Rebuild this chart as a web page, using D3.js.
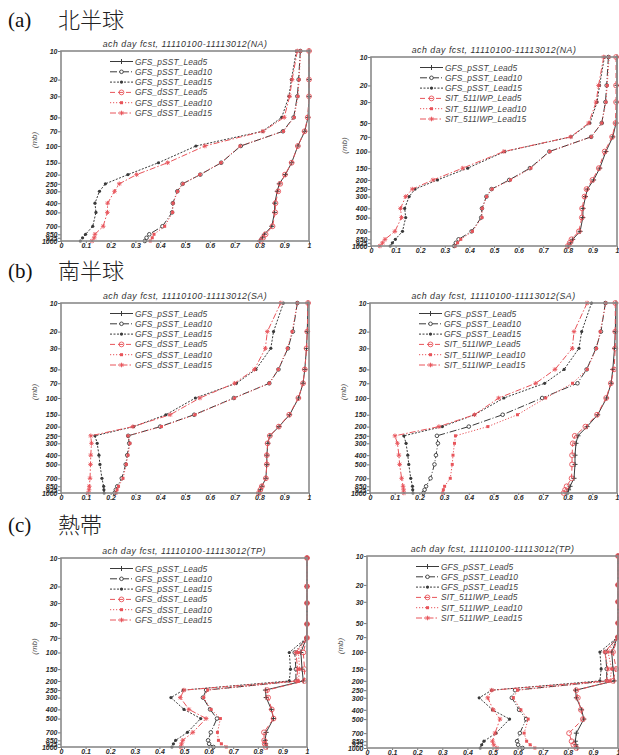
<!DOCTYPE html>
<html>
<head>
<meta charset="utf-8">
<script src="https://d3js.org/d3.v7.min.js"></script>
<style>
body { margin:0; background:#fff; }
svg { display:block; }
</style>
</head>
<body>
<svg id="drawing_region"></svg>
<script>
// pressure levels (mb)
const levels = [10, 20, 30, 50, 70, 100, 150, 200, 250, 300, 400, 500, 700, 850, 925, 1000];
const xticks = [0, 0.1, 0.2, 0.3, 0.4, 0.5, 0.6, 0.7, 0.8, 0.9, 1];

// NA
const NA_pSST_Lead5  = [1.0, 1.0, 1.0, 0.996, 0.983, 0.955, 0.930, 0.905, 0.880, 0.872, 0.862, 0.861, 0.850, 0.820, 0.812, 0.801];
const NA_pSST_Lead10 = [0.965, 0.958, 0.953, 0.938, 0.895, 0.725, 0.646, 0.562, 0.490, 0.469, 0.451, 0.448, 0.409, 0.356, 0.345, 0.338];
const NA_pSST_Lead15 = [0.949, 0.929, 0.919, 0.890, 0.813, 0.544, 0.393, 0.270, 0.179, 0.155, 0.137, 0.141, 0.128, 0.099, 0.087, 0.078];
const NA_dSST_Lead5  = [1.0, 1.0, 1.0, 0.995, 0.982, 0.955, 0.930, 0.903, 0.884, 0.876, 0.865, 0.864, 0.853, 0.825, 0.815, 0.806];
const NA_dSST_Lead10 = [0.966, 0.960, 0.955, 0.940, 0.897, 0.722, 0.645, 0.560, 0.492, 0.470, 0.452, 0.450, 0.418, 0.375, 0.368, 0.360];
const NA_dSST_Lead15 = [0.953, 0.932, 0.922, 0.900, 0.815, 0.580, 0.430, 0.305, 0.235, 0.216, 0.188, 0.187, 0.170, 0.137, 0.134, 0.125];
const NA_SIT_Lead5   = [0.996, 0.996, 0.996, 0.994, 0.980, 0.950, 0.926, 0.900, 0.876, 0.868, 0.858, 0.857, 0.845, 0.815, 0.808, 0.800];
const NA_SIT_Lead10  = [0.968, 0.960, 0.955, 0.938, 0.895, 0.727, 0.650, 0.567, 0.492, 0.470, 0.452, 0.451, 0.412, 0.365, 0.352, 0.343];
const NA_SIT_Lead15  = [0.946, 0.925, 0.915, 0.885, 0.812, 0.540, 0.373, 0.252, 0.168, 0.141, 0.120, 0.124, 0.097, 0.057, 0.047, 0.036];

// SA
const SA_pSST_Lead5  = [0.996, 0.993, 0.990, 0.983, 0.976, 0.958, 0.922, 0.879, 0.842, 0.834, 0.830, 0.830, 0.826, 0.810, 0.804, 0.797];
const SA_pSST_Lead10 = [0.953, 0.935, 0.915, 0.877, 0.840, 0.697, 0.537, 0.400, 0.271, 0.275, 0.267, 0.261, 0.245, 0.227, 0.221, 0.216];
const SA_pSST_Lead15 = [0.897, 0.857, 0.846, 0.786, 0.707, 0.542, 0.423, 0.293, 0.137, 0.146, 0.153, 0.157, 0.165, 0.172, 0.173, 0.174];
const SA_dSST_Lead5  = [0.996, 0.993, 0.990, 0.983, 0.976, 0.957, 0.920, 0.878, 0.842, 0.833, 0.830, 0.830, 0.826, 0.810, 0.804, 0.798];
const SA_dSST_Lead10 = [0.953, 0.932, 0.913, 0.876, 0.840, 0.700, 0.540, 0.405, 0.270, 0.278, 0.270, 0.263, 0.250, 0.232, 0.226, 0.222];
const SA_dSST_Lead15 = [0.886, 0.832, 0.824, 0.780, 0.700, 0.560, 0.440, 0.290, 0.120, 0.123, 0.120, 0.119, 0.117, 0.114, 0.113, 0.110];
const SA_SIT_Lead5   = [0.993, 0.993, 0.993, 0.988, 0.975, 0.956, 0.919, 0.872, 0.829, 0.821, 0.818, 0.818, 0.816, 0.796, 0.790, 0.784];
const SA_SIT_Lead10  = [0.955, 0.932, 0.917, 0.879, 0.820, 0.711, 0.597, 0.477, 0.346, 0.342, 0.336, 0.333, 0.325, 0.302, 0.297, 0.294];
const SA_SIT_Lead15  = [0.879, 0.826, 0.819, 0.749, 0.671, 0.521, 0.423, 0.279, 0.101, 0.111, 0.117, 0.120, 0.128, 0.134, 0.136, 0.137];

// TP
const TP_pSST_Lead5  = [1.0, 1.0, 1.0, 1.0, 0.998, 0.975, 0.980, 0.985, 0.831, 0.834, 0.855, 0.864, 0.834, 0.830, 0.832, 0.838];
const TP_pSST_Lead10 = [1.0, 1.0, 1.0, 1.0, 0.998, 0.950, 0.955, 0.955, 0.590, 0.577, 0.606, 0.634, 0.609, 0.598, 0.602, 0.620];
const TP_pSST_Lead15 = [1.0, 1.0, 1.0, 1.0, 0.998, 0.928, 0.933, 0.928, 0.497, 0.447, 0.500, 0.568, 0.514, 0.466, 0.457, 0.451];
const TP_dSST_Lead5  = [1.0, 1.0, 1.0, 1.0, 1.0, 0.985, 0.990, 0.990, 0.838, 0.842, 0.857, 0.864, 0.825, 0.826, 0.828, 0.832];
const TP_dSST_Lead10 = [1.0, 1.0, 1.0, 1.0, 1.0, 0.965, 0.970, 0.965, 0.596, 0.580, 0.610, 0.648, 0.636, 0.640, 0.652, 0.672];
const TP_dSST_Lead15 = [1.0, 1.0, 1.0, 1.0, 1.0, 0.955, 0.962, 0.958, 0.500, 0.485, 0.520, 0.590, 0.536, 0.495, 0.490, 0.487];
const TP_SIT_Lead5   = [1.0, 1.0, 1.0, 1.0, 1.0, 0.980, 0.993, 0.980, 0.834, 0.840, 0.852, 0.860, 0.805, 0.815, 0.822, 0.834];
const TP_SIT_Lead10  = [1.0, 1.0, 1.0, 1.0, 1.0, 0.960, 0.975, 0.968, 0.600, 0.583, 0.613, 0.642, 0.626, 0.636, 0.650, 0.669];
const TP_SIT_Lead15  = [1.0, 1.0, 1.0, 1.0, 1.0, 0.947, 0.960, 0.955, 0.497, 0.481, 0.503, 0.530, 0.510, 0.500, 0.505, 0.517];

const row_labels = ['(a)', '(b)', '(c)'];
const row_names = ['北半球', '南半球', '熱帯'];
const title_text = 'ach day fcst, 11110100-11113012';

const BLACK = '#3a3a3a';
const RED = '#e8545a';

// line styles: lead5, lead10, lead15 for black and red
const styles = [
    {color: BLACK, dash: null,        marker: 'plus'},
    {color: BLACK, dash: '7,2,1,2',   marker: 'circle'},
    {color: BLACK, dash: '2,1.5',     marker: 'dot'},
    {color: RED,   dash: '5,3',       marker: 'bigcircle'},
    {color: RED,   dash: '1.2,1.8',   marker: 'square'},
    {color: RED,   dash: '6,2,1.5,2', marker: 'star'}
];

const svg = d3.select('#drawing_region')
    .attr('width', 619)
    .attr('height', 755);

row_labels.forEach( (lab, i) => {
    const y = [27, 278, 532][i];
    svg.append('text')
        .text(lab)
        .attr('x', 8).attr('y', y)
        .attr('font-family', '"Liberation Serif", serif')
        .attr('font-size', '21px')
        .attr('fill', '#111');
    svg.append('text')
        .text(row_names[i])
        .attr('x', 58).attr('y', y + 1)
        .attr('font-family', '"Noto Sans CJK JP", sans-serif')
        .attr('font-weight', 300)
        .attr('font-size', '22px')
        .attr('fill', '#222');
});

class ProfilePlot {

    constructor( config, series ) {
        this.config = config;
        this.series = series;
        this.init();
    }

    init() {
        let self = this;
        const c = self.config;

        self.chart = svg.append('g');

        self.xscale = d3.scaleLinear()
            .domain([0, 1])
            .range([c.x0, c.x1]);

        self.yscale = d3.scaleLog()
            .domain([10, 1000])
            .range([c.top, c.bottom]);

        self.xaxis = d3.axisBottom( self.xscale )
            .tickValues( xticks )
            .tickSize(2)
            .tickFormat( d => (d === 0 || d === 1) ? String(d) : d.toFixed(1) );

        self.yaxis = d3.axisLeft( self.yscale )
            .tickValues( levels )
            .tickSize(3)
            .tickFormat( d => String(d) );
    }

    update() {
        this.render();
    }

    marker( g, type, x, y, color ) {
        if (type === 'plus') {
            g.append('path').attr('d', `M${x-2.5},${y}h5M${x},${y-2.5}v5`)
                .attr('stroke', color).attr('stroke-width', 1);
        } else if (type === 'circle') {
            g.append('circle').attr('cx', x).attr('cy', y).attr('r', 1.8)
                .attr('fill', '#fff').attr('stroke', color).attr('stroke-width', 0.9);
        } else if (type === 'dot') {
            g.append('circle').attr('cx', x).attr('cy', y).attr('r', 1.6)
                .attr('fill', color);
        } else if (type === 'bigcircle') {
            g.append('circle').attr('cx', x).attr('cy', y).attr('r', 2.4)
                .attr('fill', 'none').attr('stroke', color).attr('stroke-width', 0.9);
        } else if (type === 'square') {
            g.append('rect').attr('x', x - 1.5).attr('y', y - 1.5)
                .attr('width', 3).attr('height', 3).attr('fill', color);
        } else {
            g.append('path')
                .attr('d', `M${x-2.3},${y}h4.6M${x},${y-2.3}v4.6M${x-1.7},${y-1.7}l3.4,3.4M${x-1.7},${y+1.7}l3.4,-3.4`)
                .attr('stroke', color).attr('stroke-width', 0.9);
        }
    }

    render() {
        let self = this;
        const c = self.config;

        // axes
        const xg = self.chart.append('g')
            .attr('transform', `translate(0, ${c.bottom})`)
            .call( self.xaxis );
        const yg = self.chart.append('g')
            .attr('transform', `translate(${c.x0}, 0)`)
            .call( self.yaxis );

        [xg, yg].forEach( g => {
            g.select('.domain').remove();
            g.selectAll('line').attr('stroke', '#777');
            g.selectAll('text')
                .attr('font-family', '"Liberation Sans", Arial, sans-serif')
                .attr('font-style', 'italic')
                .attr('font-weight', 'bold')
                .attr('font-size', '7px')
                .attr('fill', '#2a2a2a');
        });
        xg.selectAll('text').attr('dy', '0.2em').attr('y', 5.5);
        yg.selectAll('text').attr('x', -3.5);

        // lines
        const line = d3.line()
            .x( d => self.xscale(d.v) )
            .y( d => self.yscale(d.p) );

        self.series.forEach( (s, i) => {
            const st = styles[i];
            const pts = levels.map( (p, k) => ({p: p, v: s.values[k]}) );
            const g = self.chart.append('g');
            g.append('path')
                .datum(pts)
                .attr('d', line)
                .attr('fill', 'none')
                .attr('stroke', st.color)
                .attr('stroke-width', 1)
                .attr('stroke-dasharray', st.dash);
            pts.forEach( d => self.marker(g, st.marker, self.xscale(d.v), self.yscale(d.p), st.color) );
        });

        // frame
        self.chart.append('rect')
            .attr('x', c.x0).attr('y', c.top)
            .attr('width', c.x1 - c.x0).attr('height', c.bottom - c.top)
            .attr('fill', 'none')
            .attr('stroke', '#8a8a8a')
            .attr('stroke-width', 1.6);

        // title
        self.chart.append('text')
            .text(`${title_text}(${c.region})`)
            .attr('x', (c.x0 + c.x1) / 2)
            .attr('y', c.top - 4.5)
            .attr('text-anchor', 'middle')
            .attr('font-family', '"Liberation Sans", Arial, sans-serif')
            .attr('font-style', 'italic')
            .attr('font-size', '8.8px')
            .attr('letter-spacing', '0.5px')
            .attr('fill', '#333');

        // (mb)
        self.chart.append('text')
            .text('(mb)')
            .attr('transform', `translate(${c.x0 - 24}, ${(c.top + c.bottom) / 2 - 6}) rotate(-90)`)
            .attr('text-anchor', 'middle')
            .attr('font-family', '"Liberation Sans", Arial, sans-serif')
            .attr('font-style', 'italic')
            .attr('font-size', '8px')
            .attr('fill', '#555');

        // legend
        self.series.forEach( (s, i) => {
            const st = styles[i];
            const y = c.top + 10.5 + i * 10.3;
            const lx = c.x0 + 49;
            const g = self.chart.append('g');
            g.append('line')
                .attr('x1', lx).attr('x2', lx + 23)
                .attr('y1', y).attr('y2', y)
                .attr('stroke', st.color)
                .attr('stroke-width', 1)
                .attr('stroke-dasharray', st.dash);
            self.marker(g, st.marker, lx + 11.5, y, st.color);
            g.append('text')
                .text(s.name)
                .attr('x', lx + 25).attr('y', y + 3)
                .attr('font-family', '"Liberation Sans", Arial, sans-serif')
                .attr('font-style', 'italic')
                .attr('font-size', '8.4px')
                .attr('letter-spacing', '0.1px')
                .attr('fill', '#444');
        });
    }
}

const panels = [
    {config: {x0: 61,  x1: 309, top: 51,  bottom: 241, region: 'NA'},
     exp: ['GFS_dSST', [NA_pSST_Lead5, NA_pSST_Lead10, NA_pSST_Lead15, NA_dSST_Lead5, NA_dSST_Lead10, NA_dSST_Lead15]]},
    {config: {x0: 371, x1: 617, top: 57,  bottom: 246, region: 'NA'},
     exp: ['SIT_511IWP', [NA_pSST_Lead5, NA_pSST_Lead10, NA_pSST_Lead15, NA_SIT_Lead5, NA_SIT_Lead10, NA_SIT_Lead15]]},
    {config: {x0: 61,  x1: 309, top: 303, bottom: 493, region: 'SA'},
     exp: ['GFS_dSST', [SA_pSST_Lead5, SA_pSST_Lead10, SA_pSST_Lead15, SA_dSST_Lead5, SA_dSST_Lead10, SA_dSST_Lead15]]},
    {config: {x0: 370, x1: 617, top: 303, bottom: 493, region: 'SA'},
     exp: ['SIT_511IWP', [SA_pSST_Lead5, SA_pSST_Lead10, SA_pSST_Lead15, SA_SIT_Lead5, SA_SIT_Lead10, SA_SIT_Lead15]]},
    {config: {x0: 61,  x1: 307, top: 558, bottom: 747, region: 'TP'},
     exp: ['GFS_dSST', [TP_pSST_Lead5, TP_pSST_Lead10, TP_pSST_Lead15, TP_dSST_Lead5, TP_dSST_Lead10, TP_dSST_Lead15]]},
    {config: {x0: 367, x1: 618, top: 556, bottom: 748, region: 'TP'},
     exp: ['SIT_511IWP', [TP_pSST_Lead5, TP_pSST_Lead10, TP_pSST_Lead15, TP_SIT_Lead5, TP_SIT_Lead10, TP_SIT_Lead15]]}
];

const leads = ['Lead5', 'Lead10', 'Lead15'];

panels.forEach( p => {
    const series = p.exp[1].map( (vals, i) => ({
        name: (i < 3 ? 'GFS_pSST' : p.exp[0]) + '_' + leads[i % 3],
        values: vals
    }));
    const plot = new ProfilePlot( p.config, series );
    plot.update();
});
</script>
</body>
</html>
